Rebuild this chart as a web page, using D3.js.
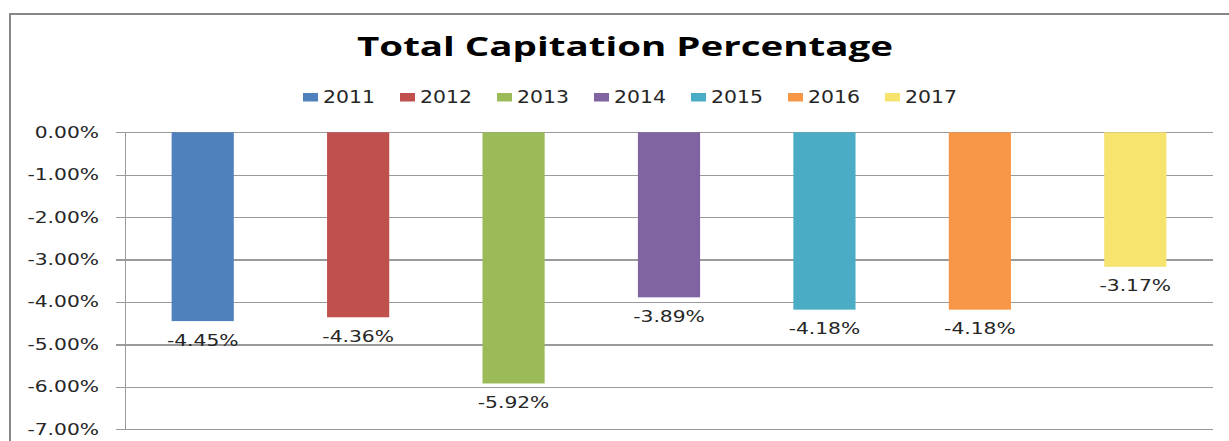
<!DOCTYPE html>
<html>
<head>
<meta charset="utf-8">
<script src="https://cdn.jsdelivr.net/npm/d3@7"></script>
<style>
  html, body { margin: 0; padding: 0; background: #fff; }
  svg { display: block; }
</style>
</head>
<body>
<svg id="chart" width="1229" height="441"></svg>
<script>
// ---- data ----
const years = ["2011", "2012", "2013", "2014", "2015", "2016", "2017"];
const values = [-4.45, -4.36, -5.92, -3.89, -4.18, -4.18, -3.17];
const yTicks = [0, -1, -2, -3, -4, -5, -6, -7];
const title = "Total Capitation Percentage";

// ---- style ----
const palette = ["#4F81BD", "#C0504D", "#9BBB59", "#8064A2", "#4BACC6", "#F79646", "#F6E46F"];
const textColor = "#262626";
const gridColor = "#9a9a9a";
const numFont = "'DejaVu Sans', Verdana, sans-serif";
const numStretch = 1.35;
const legendStretch = 1.2;

const svg = d3.select("#chart");

// chart frame
svg.append("rect")
  .attr("x", 10).attr("y", 14)
  .attr("width", 1240).attr("height", 440)
  .attr("fill", "#fff")
  .attr("stroke", "#878787").attr("stroke-width", 2);

const plot = { left: 125, right: 1213, top: 132.3, bottom: 429.3 };

const y = d3.scaleLinear().domain([-7, 0]).range([plot.bottom, plot.top]);
const x = d3.scaleBand().domain(years).range([plot.left, plot.right])
  .paddingInner(0.6).paddingOuter(0.3);
const color = d3.scaleOrdinal().domain(years).range(palette);

// gridlines + outer ticks
const gridAxis = d3.axisLeft(y).tickValues(yTicks)
  .tickSizeInner(-(plot.right - plot.left)).tickSizeOuter(0).tickFormat("");
const gg = svg.append("g").attr("transform", `translate(${plot.left},0)`).call(gridAxis);
gg.select(".domain").remove();
gg.selectAll(".tick line").attr("stroke", gridColor).attr("stroke-width", 1.2).attr("shape-rendering", "crispEdges");

const tickAxis = d3.axisLeft(y).tickValues(yTicks).tickSizeInner(9).tickSizeOuter(0).tickFormat("");
const tg = svg.append("g").attr("transform", `translate(${plot.left},0)`).call(tickAxis);
tg.select(".domain").attr("stroke", gridColor).attr("stroke-width", 1.2).attr("shape-rendering", "crispEdges");
tg.selectAll(".tick line").attr("stroke", gridColor).attr("stroke-width", 1.2).attr("shape-rendering", "crispEdges");

// y tick labels (plain hyphen minus as in the original)
const fmt = d => d3.format(".2f")(d).replace("\u2212", "-") + "%";
svg.append("g").selectAll("text").data(yTicks).join("text")
  .attr("transform", d => `translate(${plot.left - 26},${y(d)}) scale(${numStretch},1)`)
  .attr("text-anchor", "end")
  .attr("dy", "0.36em")
  .attr("font-family", numFont)
  .attr("font-size", 15)
  .attr("fill", textColor)
  .text(fmt);

// bars
svg.append("g").selectAll("rect").data(years).join("rect")
  .attr("x", d => x(d))
  .attr("width", x.bandwidth())
  .attr("y", y(0))
  .attr("height", (d, i) => y(values[i]) - y(0))
  .attr("fill", d => color(d));

// data labels
svg.append("g").selectAll("text").data(years).join("text")
  .attr("transform", (d, i) => `translate(${x(d) + x.bandwidth() / 2},${y(values[i]) + 24.5}) scale(${numStretch},1)`)
  .attr("text-anchor", "middle")
  .attr("font-family", numFont)
  .attr("font-size", 15)
  .attr("fill", textColor)
  .text((d, i) => fmt(values[i]));

// title
svg.append("text")
  .attr("x", 357).attr("y", 56)
  .attr("textLength", 536).attr("lengthAdjust", "spacingAndGlyphs")
  .attr("font-family", "'Open Sans', 'Liberation Sans', sans-serif")
  .attr("font-weight", "bold")
  .attr("font-size", 27)
  .attr("fill", "#000")
  .text(title);

// legend
const legendX = d3.scalePoint().domain(years).range([303, 885]);
const lg = svg.append("g").selectAll("g").data(years).join("g")
  .attr("transform", d => `translate(${legendX(d)},93)`);
lg.append("rect").attr("width", 15).attr("height", 8.5).attr("fill", d => color(d));
lg.append("text")
  .attr("transform", `translate(20,9.5) scale(${legendStretch},1)`)
  .attr("font-family", numFont)
  .attr("font-size", 17)
  .attr("fill", textColor)
  .text(d => d);
</script>
</body>
</html>
